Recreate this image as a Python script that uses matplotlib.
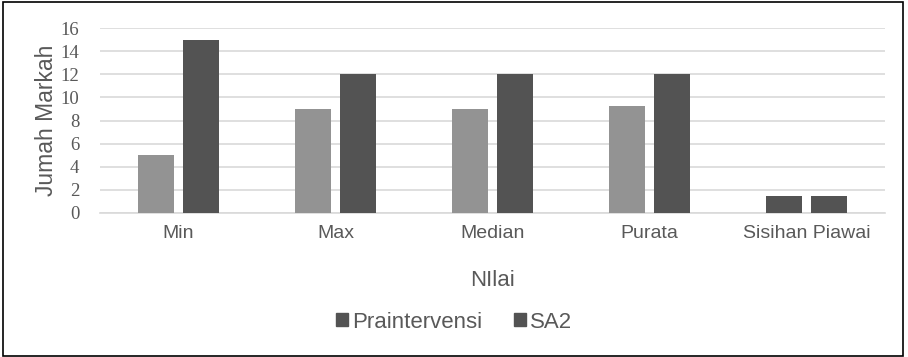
import numpy as np
import matplotlib
matplotlib.use("Agg")
from matplotlib import pyplot as plt
from matplotlib.patches import Rectangle, Patch

# data
categories = ["Min", "Max", "Median", "Purata", "Sisihan Piawai"]
praintervensi = [5, 9, 9, 9.3, 1.45]
sa2 = [15, 12, 12, 12, 1.45]
series_names = ["Praintervensi", "SA2"]

light = "#939393"
dark = "#535353"
textc = "#595959"
gridc = "#d9d9d9"

fig = plt.figure(figsize=(9.08, 3.57), dpi=100)
ax = fig.add_axes([100/908, 1 - 212.7/357, 785/908, (212.7 - 28.3)/357])

x = np.arange(len(categories))
w = 0.23
off = 0.1435
# last category is drawn dark for both series in the original
cols1 = [light, light, light, light, dark]
ax.bar(x - off, praintervensi, width=w, color=cols1, zorder=3)
ax.bar(x + off, sa2, width=w, color=dark, zorder=3)

ax.set_xlim(-0.5, len(categories) - 0.5)
ax.set_ylim(0, 16)
ax.set_yticks(np.arange(0, 17, 2))
ax.set_xticks(x)
ax.set_xticklabels(categories, fontsize=14, color=textc, family="Liberation Sans")
for lab in ax.get_yticklabels():
    lab.set_fontfamily("Liberation Serif")
    lab.set_fontsize(13.5)
    lab.set_color(textc)
ax.tick_params(axis="x", length=0, pad=9)
ax.tick_params(axis="y", length=0, pad=15)
ax.grid(axis="y", color=gridc, lw=1.2, zorder=0)
for s in ["top", "right", "left"]:
    ax.spines[s].set_visible(False)
ax.spines["bottom"].set_color(gridc)
ax.spines["bottom"].set_linewidth(1.2)

ax.set_ylabel("Jumah Markah", fontsize=16.5, color=textc, family="Liberation Sans", labelpad=2)
ax.set_xlabel("NIlai", fontsize=16, color=textc, family="Liberation Sans", labelpad=20)

handles = [Patch(color=dark), Patch(color=dark)]
fig.legend(handles, series_names, loc="center", bbox_to_anchor=(0.5, 1 - 322/357),
           ncol=2, frameon=False, prop={"family": "Liberation Sans", "size": 16},
           labelcolor=textc, handlelength=0.55, handleheight=0.55, handletextpad=0.2,
           columnspacing=1.4)

fig.add_artist(Rectangle((0.003, 0.004), 0.992, 0.99, transform=fig.transFigure,
                         fill=False, edgecolor="black", lw=1.2))

plt.savefig("out.png", dpi=100)
